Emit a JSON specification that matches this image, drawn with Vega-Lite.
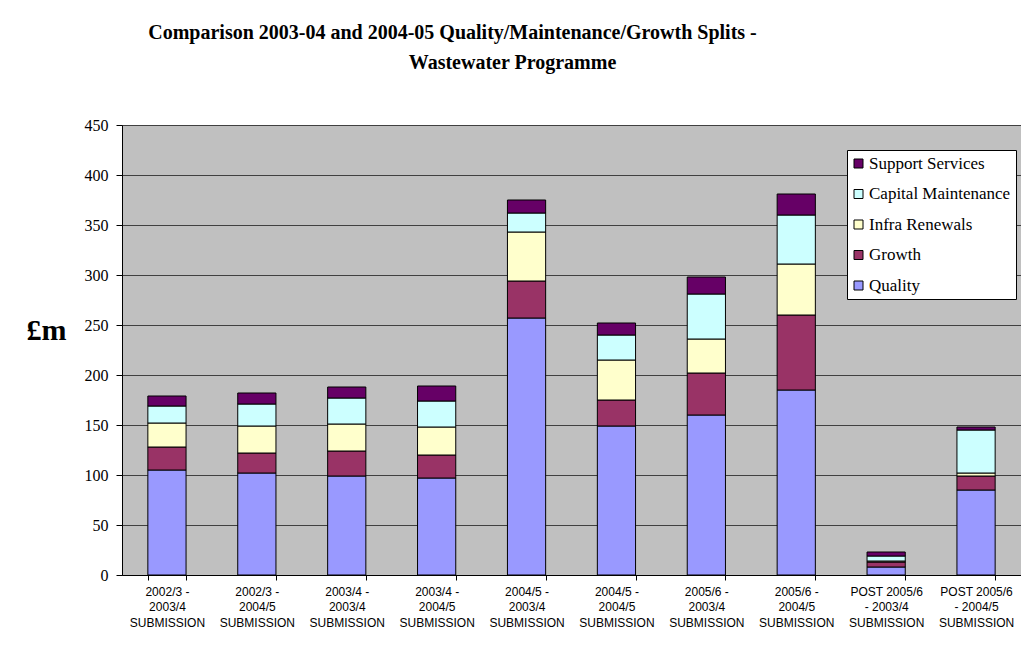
{
  "$schema": "https://vega.github.io/schema/vega-lite/v6.json",
  "width": 899,
  "height": 450,
  "autosize": {"type": "none"},
  "padding": {"left": 122, "top": 125, "right": 0, "bottom": 75},
  "background": "white",
  "title": {
    "text": ["Comparison 2003-04 and 2004-05 Quality/Maintenance/Growth Splits -", "\u2800\u2800\u2800\u2800\u2800\u2800\u2800\u2800Wastewater Programme"],
    "anchor": "middle",
    "frame": "group",
    "dx": -119,
    "offset": 44,
    "font": "Liberation Serif",
    "fontSize": 20,
    "fontWeight": "bold",
    "color": "black",
    "lineHeight": 30
  },
  "data": {
    "values": [
      {"submission": "2002/3 -\n2003/4\nSUBMISSION", "series": "Quality", "value": 105},
      {"submission": "2002/3 -\n2003/4\nSUBMISSION", "series": "Growth", "value": 23},
      {"submission": "2002/3 -\n2003/4\nSUBMISSION", "series": "Infra Renewals", "value": 24},
      {"submission": "2002/3 -\n2003/4\nSUBMISSION", "series": "Capital Maintenance", "value": 17},
      {"submission": "2002/3 -\n2003/4\nSUBMISSION", "series": "Support Services", "value": 10},
      {"submission": "2002/3 -\n2004/5\nSUBMISSION", "series": "Quality", "value": 102},
      {"submission": "2002/3 -\n2004/5\nSUBMISSION", "series": "Growth", "value": 20},
      {"submission": "2002/3 -\n2004/5\nSUBMISSION", "series": "Infra Renewals", "value": 27},
      {"submission": "2002/3 -\n2004/5\nSUBMISSION", "series": "Capital Maintenance", "value": 22},
      {"submission": "2002/3 -\n2004/5\nSUBMISSION", "series": "Support Services", "value": 11},
      {"submission": "2003/4 -\n2003/4\nSUBMISSION", "series": "Quality", "value": 99},
      {"submission": "2003/4 -\n2003/4\nSUBMISSION", "series": "Growth", "value": 25},
      {"submission": "2003/4 -\n2003/4\nSUBMISSION", "series": "Infra Renewals", "value": 27},
      {"submission": "2003/4 -\n2003/4\nSUBMISSION", "series": "Capital Maintenance", "value": 26},
      {"submission": "2003/4 -\n2003/4\nSUBMISSION", "series": "Support Services", "value": 11},
      {"submission": "2003/4 -\n2004/5\nSUBMISSION", "series": "Quality", "value": 97},
      {"submission": "2003/4 -\n2004/5\nSUBMISSION", "series": "Growth", "value": 23},
      {"submission": "2003/4 -\n2004/5\nSUBMISSION", "series": "Infra Renewals", "value": 28},
      {"submission": "2003/4 -\n2004/5\nSUBMISSION", "series": "Capital Maintenance", "value": 26},
      {"submission": "2003/4 -\n2004/5\nSUBMISSION", "series": "Support Services", "value": 15},
      {"submission": "2004/5 -\n2003/4\nSUBMISSION", "series": "Quality", "value": 257},
      {"submission": "2004/5 -\n2003/4\nSUBMISSION", "series": "Growth", "value": 37},
      {"submission": "2004/5 -\n2003/4\nSUBMISSION", "series": "Infra Renewals", "value": 49},
      {"submission": "2004/5 -\n2003/4\nSUBMISSION", "series": "Capital Maintenance", "value": 19},
      {"submission": "2004/5 -\n2003/4\nSUBMISSION", "series": "Support Services", "value": 13},
      {"submission": "2004/5 -\n2004/5\nSUBMISSION", "series": "Quality", "value": 149},
      {"submission": "2004/5 -\n2004/5\nSUBMISSION", "series": "Growth", "value": 26},
      {"submission": "2004/5 -\n2004/5\nSUBMISSION", "series": "Infra Renewals", "value": 40},
      {"submission": "2004/5 -\n2004/5\nSUBMISSION", "series": "Capital Maintenance", "value": 25},
      {"submission": "2004/5 -\n2004/5\nSUBMISSION", "series": "Support Services", "value": 12},
      {"submission": "2005/6 -\n2003/4\nSUBMISSION", "series": "Quality", "value": 160},
      {"submission": "2005/6 -\n2003/4\nSUBMISSION", "series": "Growth", "value": 42},
      {"submission": "2005/6 -\n2003/4\nSUBMISSION", "series": "Infra Renewals", "value": 34},
      {"submission": "2005/6 -\n2003/4\nSUBMISSION", "series": "Capital Maintenance", "value": 45},
      {"submission": "2005/6 -\n2003/4\nSUBMISSION", "series": "Support Services", "value": 17},
      {"submission": "2005/6 -\n2004/5\nSUBMISSION", "series": "Quality", "value": 185},
      {"submission": "2005/6 -\n2004/5\nSUBMISSION", "series": "Growth", "value": 75},
      {"submission": "2005/6 -\n2004/5\nSUBMISSION", "series": "Infra Renewals", "value": 51},
      {"submission": "2005/6 -\n2004/5\nSUBMISSION", "series": "Capital Maintenance", "value": 49},
      {"submission": "2005/6 -\n2004/5\nSUBMISSION", "series": "Support Services", "value": 21},
      {"submission": "POST 2005/6\n- 2003/4\nSUBMISSION", "series": "Quality", "value": 8},
      {"submission": "POST 2005/6\n- 2003/4\nSUBMISSION", "series": "Growth", "value": 5},
      {"submission": "POST 2005/6\n- 2003/4\nSUBMISSION", "series": "Infra Renewals", "value": 1},
      {"submission": "POST 2005/6\n- 2003/4\nSUBMISSION", "series": "Capital Maintenance", "value": 5},
      {"submission": "POST 2005/6\n- 2003/4\nSUBMISSION", "series": "Support Services", "value": 4},
      {"submission": "POST 2005/6\n- 2004/5\nSUBMISSION", "series": "Quality", "value": 85},
      {"submission": "POST 2005/6\n- 2004/5\nSUBMISSION", "series": "Growth", "value": 14},
      {"submission": "POST 2005/6\n- 2004/5\nSUBMISSION", "series": "Infra Renewals", "value": 3},
      {"submission": "POST 2005/6\n- 2004/5\nSUBMISSION", "series": "Capital Maintenance", "value": 43},
      {"submission": "POST 2005/6\n- 2004/5\nSUBMISSION", "series": "Support Services", "value": 3}
    ]
  },
  "transform": [
    {"calculate": "indexof(['Quality', 'Growth', 'Infra Renewals', 'Capital Maintenance', 'Support Services'], datum.series)", "as": "stackOrder"}
  ],
  "mark": {"type": "bar", "stroke": "black", "strokeWidth": 1},
  "encoding": {
    "x": {
      "field": "submission",
      "type": "nominal",
      "sort": null,
      "scale": {"paddingInner": 0.575, "paddingOuter": 0.2875},
      "axis": {
        "title": null,
        "labelAngle": 0,
        "labelExpr": "split(datum.label, '\\n')",
        "labelFont": "Liberation Sans",
        "labelFontSize": 12,
        "labelColor": "black",
        "labelLineHeight": 15.5,
        "labelPadding": 6,
        "labelLimit": 200,
        "tickBand": "extent",
        "tickColor": "black",
        "tickSize": 5,
        "domainColor": "black",
        "domainWidth": 1
      }
    },
    "y": {
      "field": "value",
      "type": "quantitative",
      "aggregate": "sum",
      "stack": "zero",
      "scale": {"domain": [0, 450], "nice": false},
      "axis": {
        "values": [0, 50, 100, 150, 200, 250, 300, 350, 400, 450],
        "title": "£m",
        "titleAngle": 0,
        "titleFont": "Liberation Serif",
        "titleFontSize": 30,
        "titleFontWeight": "bold",
        "titleColor": "black",
        "titleX": -76,
        "titleY": 205,
        "titleAlign": "center",
        "titleBaseline": "middle",
        "labelFont": "Liberation Serif",
        "labelFontSize": 16,
        "labelColor": "black",
        "labelPadding": 8,
        "tickColor": "black",
        "tickSize": 6,
        "domainColor": "black",
        "gridColor": "#404040",
        "gridWidth": 1,
        "gridOpacity": 1
      }
    },
    "color": {
      "field": "series",
      "type": "nominal",
      "scale": {
        "domain": ["Support Services", "Capital Maintenance", "Infra Renewals", "Growth", "Quality"],
        "range": ["#660066", "#CCFFFF", "#FFFFCC", "#993366", "#9999FF"]
      },
      "legend": {
        "title": null,
        "orient": "none",
        "legendX": 725,
        "legendY": 25,
        "fillColor": "white",
        "strokeColor": "black",
        "padding": 5,
        "symbolType": "square",
        "symbolSize": 81,
        "symbolOffset": -2,
        "symbolStrokeColor": "black",
        "symbolStrokeWidth": 1,
        "symbolOpacity": 1,
        "labelFont": "Liberation Serif",
        "labelFontSize": 17,
        "labelColor": "black",
        "labelOffset": 2,
        "rowPadding": 12.5,
        "labelLimit": 200
      }
    },
    "order": {"field": "stackOrder", "type": "quantitative", "aggregate": "min"}
  },
  "config": {
    "view": {"fill": "#C0C0C0", "stroke": "#808080", "strokeWidth": 1},
    "axis": {"domainWidth": 1}
  }
}
